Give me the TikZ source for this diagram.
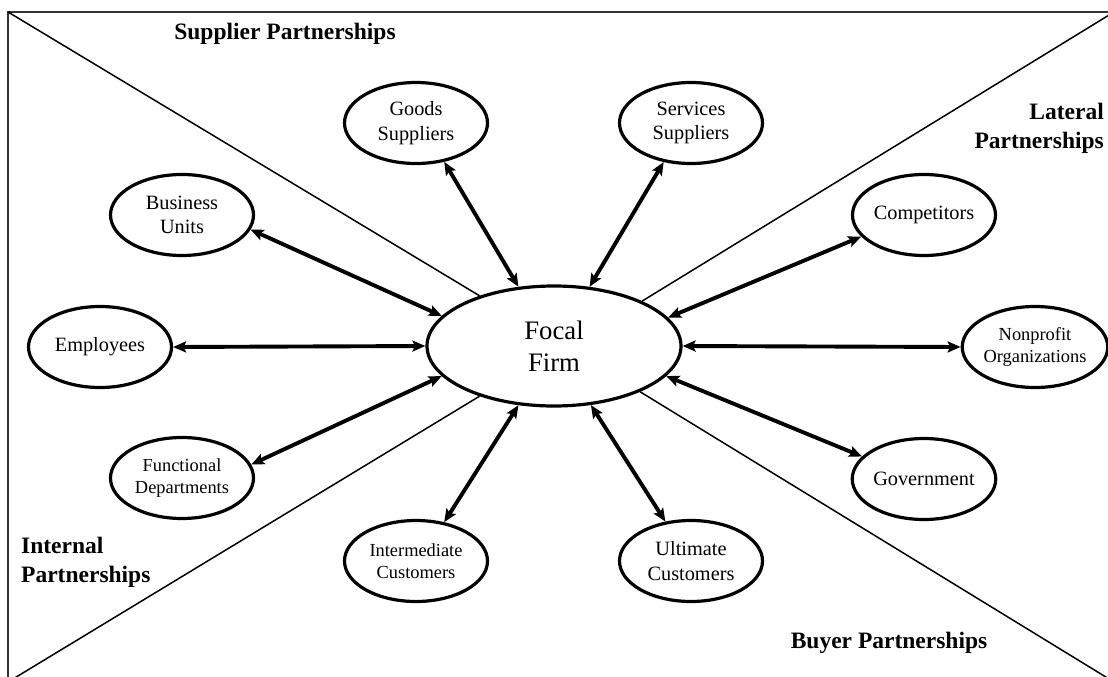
\documentclass[tikz,border=0pt]{standalone}
\usepackage{fontspec}
\setmainfont{Liberation Serif}
\usetikzlibrary{arrows.meta,shapes.geometric}
\begin{document}
\begin{tikzpicture}[x=1pt,y=-1pt,
  party/.style={ellipse,draw,line width=3.2pt,minimum width=143pt,minimum height=81pt,
    inner sep=0pt,align=center,font=\fontsize{20.3}{24.3}\selectfont},
  partysmall/.style={party,font=\fontsize{18.4}{22}\selectfont},
  link/.style={line width=3.9pt,
    {Stealth[length=13pt,width=11pt,inset=2.5pt]}-{Stealth[length=13pt,width=11pt,inset=2.5pt]}},
  divider/.style={line width=1.5pt},
  sector/.style={inner sep=0pt,font=\bfseries\fontsize{23.5}{29}\selectfont}
]
\useasboundingbox (0,0) rectangle (1108,677);
\clip (0,0) rectangle (1108,677);

% outer frame and its corners
\draw[line width=1.6pt,black!80] (8,12) rectangle (1114,682);
\coordinate (cTL) at (8,12);
\coordinate (cTR) at (1114,12);
\coordinate (cBL) at (8,682);
\coordinate (cBR) at (1114,682);

% centre
\node[ellipse,draw,line width=3.2pt,minimum width=254pt,minimum height=120pt,
  inner sep=0pt,align=center,font=\fontsize{26.7}{32}\selectfont] (focal) at (554,346) {Focal\\Firm};

% partner groups
\node[party] (goods) at (416,123) {Goods\\Suppliers};
\node[party] (serv) at (691,123) {Services\\Suppliers};
\node[party] (bu) at (182,215) {Business\\Units};
\node[party] (comp) at (924,215) {Competitors};
\node[party] (emp) at (100,347) {Employees};
\node[partysmall,minimum width=139pt] (npo) at (1035,347) {Nonprofit\\Organizations};
\node[partysmall] (func) at (182,478) {Functional\\Departments};
\node[party] (gov) at (924,479) {Government};
\node[partysmall] (inter) at (416,561) {Intermediate\\Customers};
\node[party] (ult) at (691,561) {Ultimate\\Customers};

% sector dividers
\draw[divider] (cTL) -- (focal.146);
\draw[divider] (cTR) -- (focal.27.6);
\draw[divider] (cBL) -- (focal.214.4);
\draw[divider] (cBR) -- (focal.-28.1);

% relationships
\draw[link] (goods.-54) -- (focal.121);
\draw[link] (serv.-125) -- (focal.59);
\draw[link] (bu.-12.4) -- (focal.165.6);
\draw[link] (comp.199.5) -- (focal.14.5);
\draw[link] (emp.0) -- (focal.180);
\draw[link] (npo.180) -- (focal.0);
\draw[link] (func.11.6) -- (focal.195.3);
\draw[link] (gov.160.5) -- (focal.-15.2);
\draw[link] (inter.54.7) -- (focal.239.5);
\draw[link] (ult.123.4) -- (focal.-58.8);

% sector titles
\node[sector] (sup) at (285,34) {Supplier Partnerships};
\node[sector,align=right,anchor=east] (lat) at (1104,128) {Lateral\\Partnerships};
\node[sector,align=left,anchor=west] (int) at (21,562) {Internal\\Partnerships};
\node[sector] (buy) at (889,643) {Buyer Partnerships};
\end{tikzpicture}
\end{document}
